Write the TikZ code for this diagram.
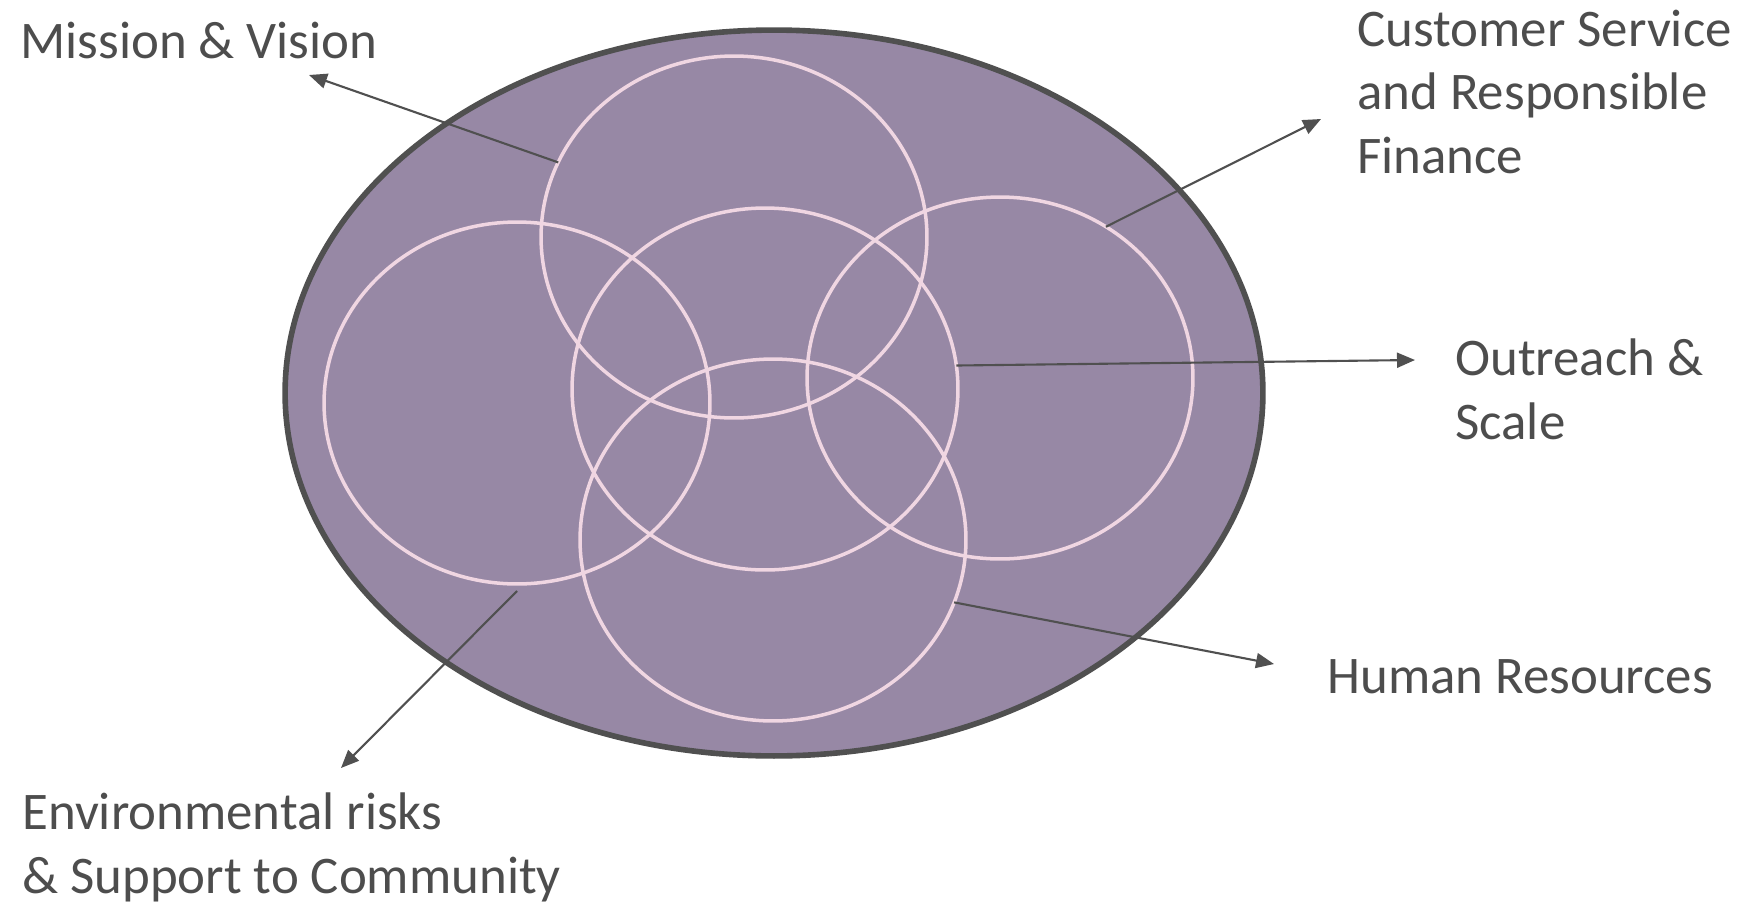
\documentclass[tikz,border=0pt]{standalone}
\usepackage{fontspec}
\setmainfont{Carlito}
\usetikzlibrary{arrows.meta, shapes.geometric}

\definecolor{plum}{RGB}{151,136,165}
\definecolor{ringpink}{RGB}{240,214,226}
\definecolor{rimgray}{RGB}{80,80,80}
\definecolor{inkgray}{RGB}{77,77,77}

\begin{document}
\begin{tikzpicture}[x=0.02cm, y=-0.02cm,
    outer/.style={ellipse, draw=rimgray, fill=plum, line width=3.2pt, minimum width=19.56cm, minimum height=14.52cm, inner sep=0pt, outer sep=0pt},
    ring/.style={ellipse, draw=ringpink, line width=2pt, minimum width=7.72cm, minimum height=7.24cm, inner sep=0pt, outer sep=0pt},
    pointer/.style={-{Triangle[length=0.36cm, width=0.3cm]}, line width=1.2pt, rimgray},
    note/.style={anchor=base west, align=left, text=inkgray, font=\fontsize{30.1pt}{35.9pt}\selectfont, inner sep=0pt},
]
  \useasboundingbox (0,0) rectangle (1751,903);

  \node[outer] (field) at (774,393) {};

  % five overlapping rings
  \foreach \name/\x/\y in {top/734/237, left/517/403, mid/765/389, right/1000/378, low/773/540} {
      \node[ring] (\name) at (\x,\y) {};
  }

  % labels, placed by the baseline of their last line
  \node[note] (mission) at (20,58) {Mission \& Vision};
  \node[note] (customer) at (1357,173) {Customer Service\\and Responsible\\Finance};
  \node[note] (outreach) at (1455,439) {Outreach \&\\Scale};
  \node[note] (human) at (1327,693) {Human Resources};
  \node[note] (enviro) at (22,893) {Environmental risks\\\& Support to Community};

  \coordinate (missiontip) at (309,75);
  \coordinate (customertip) at (1321,119);
  \coordinate (outreachtip) at (1415,360);
  \coordinate (humantip) at (1274,664);
  \coordinate (envirotip) at (341,768);

  \draw[pointer] (top.157) -- (missiontip);
  \draw[pointer] (right.55) -- (customertip);
  \draw[pointer] (mid.7) -- (outreachtip);
  \draw[pointer] (low.-19) -- (humantip);
  \draw[pointer] ([yshift=-4]left.south) -- (envirotip);
\end{tikzpicture}
\end{document}
